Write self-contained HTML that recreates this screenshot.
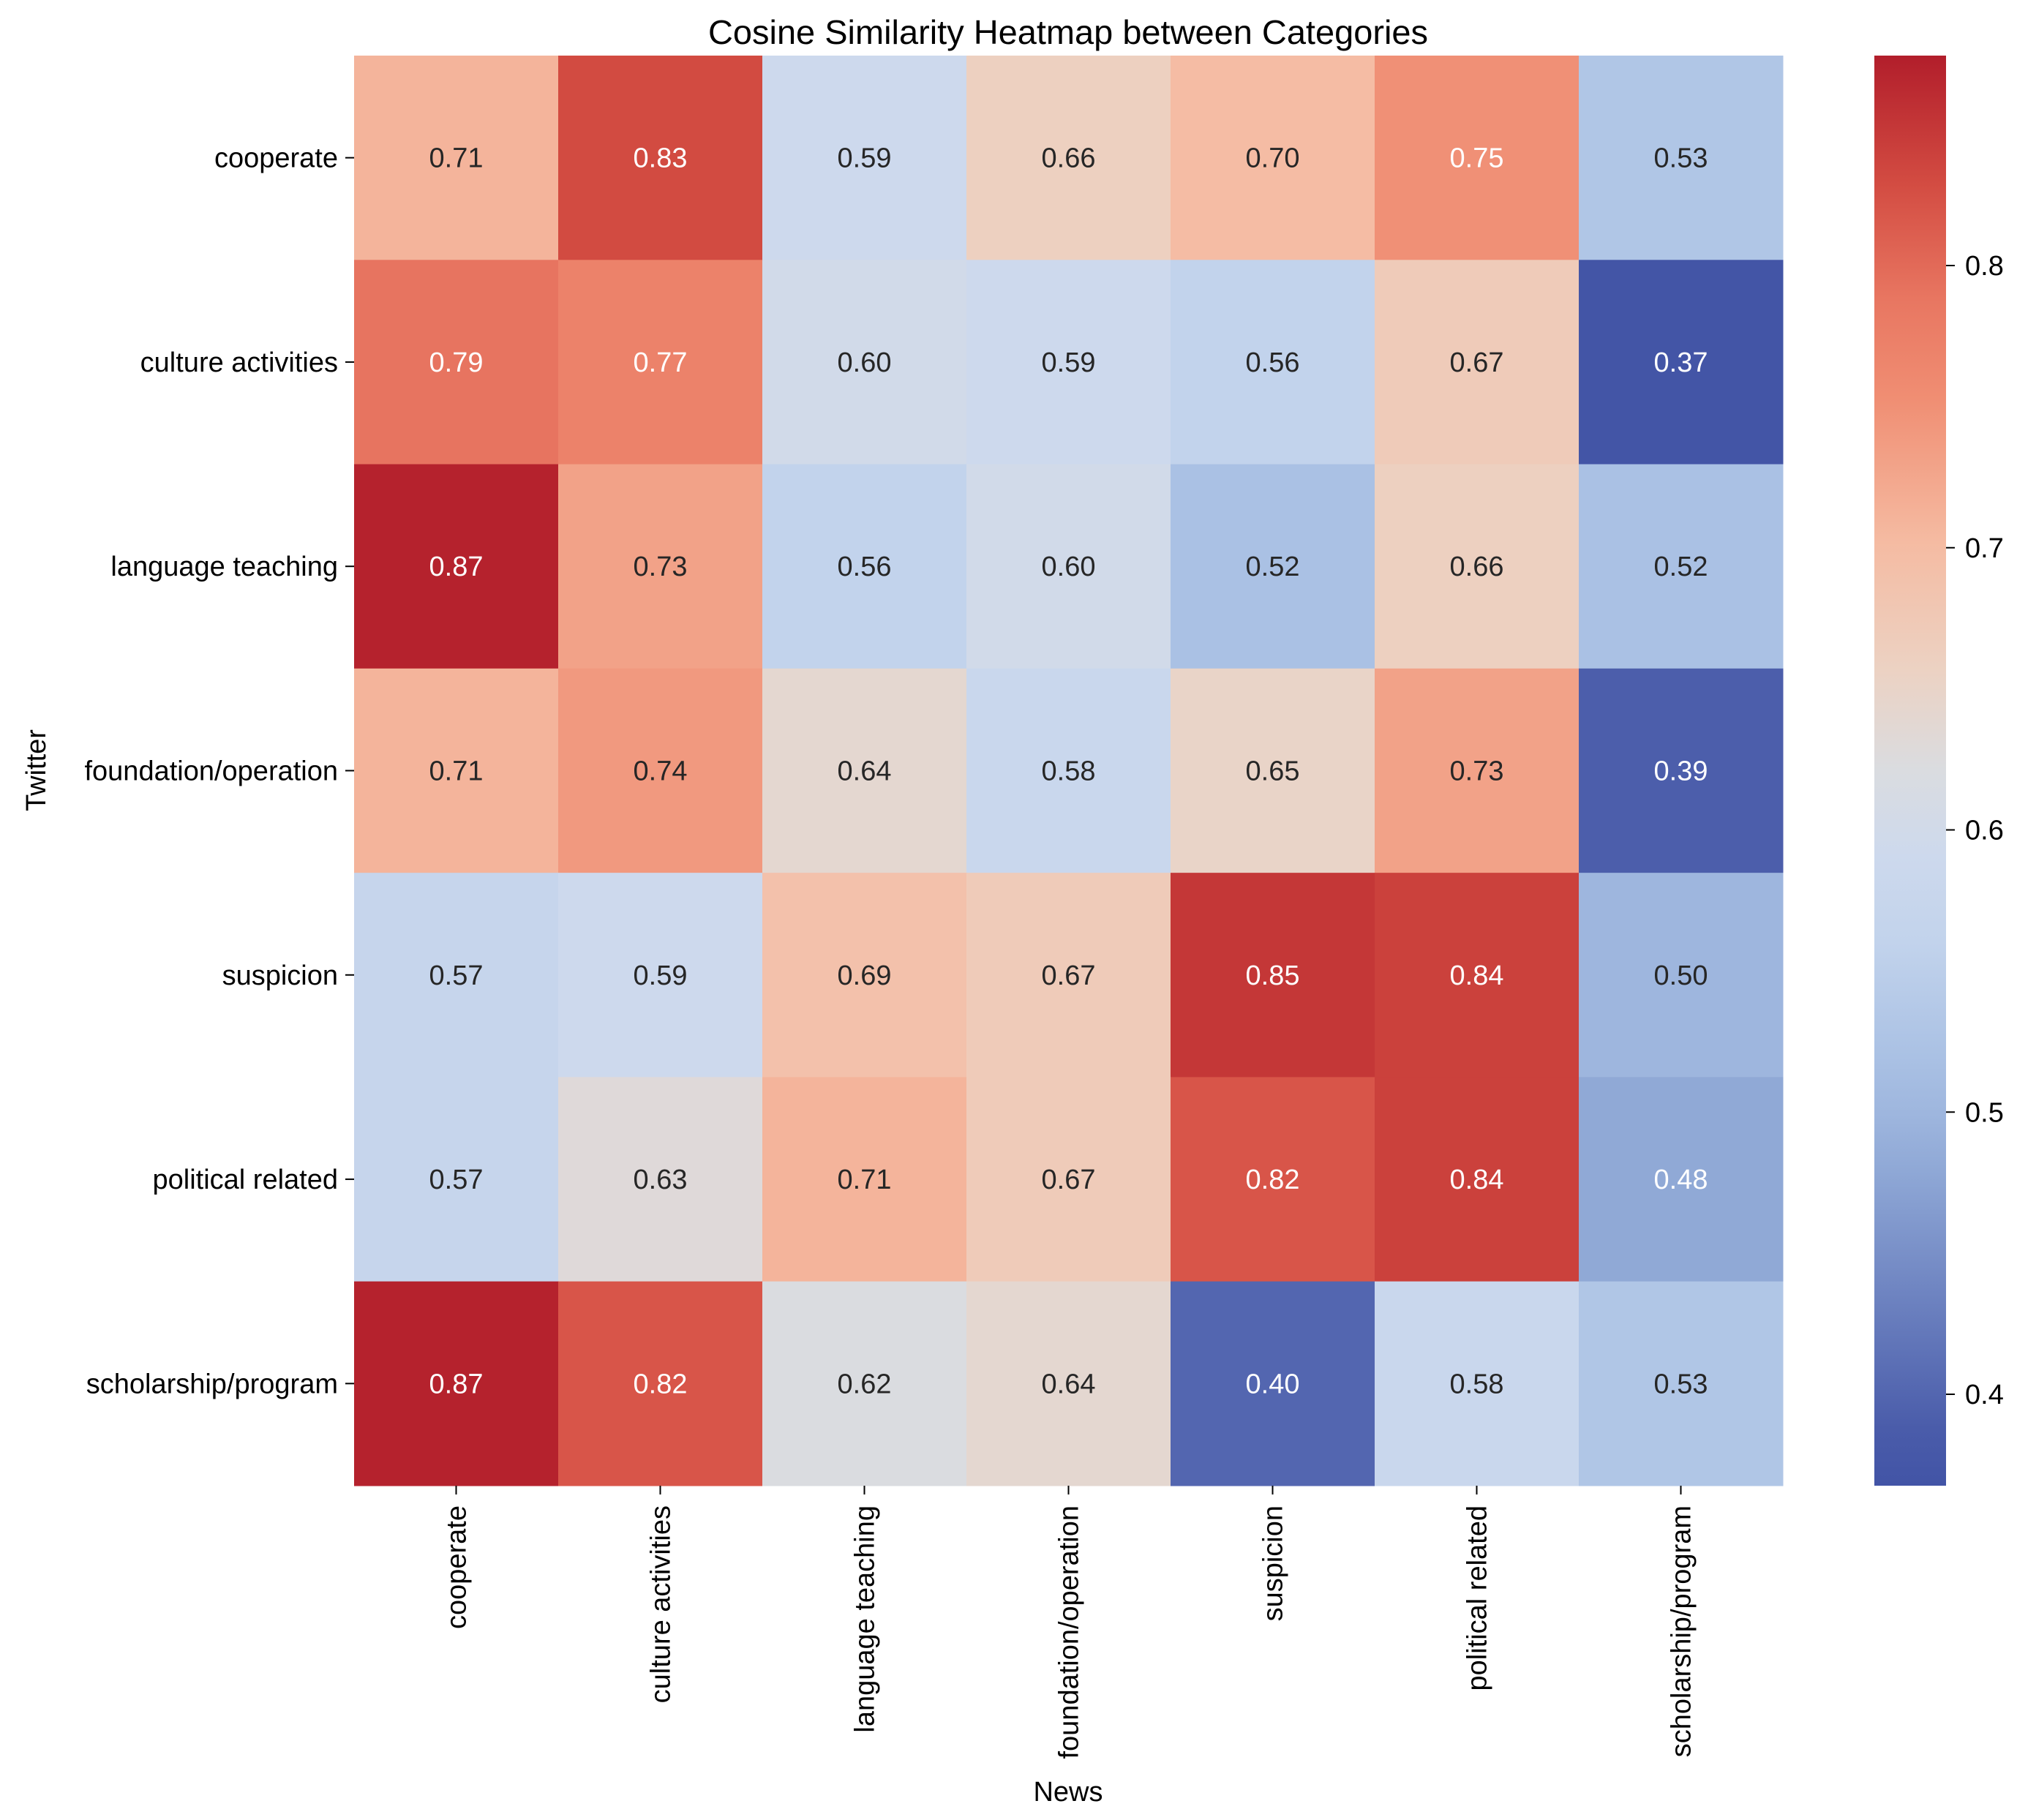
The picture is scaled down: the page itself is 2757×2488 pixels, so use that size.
<!DOCTYPE html>
<html><head><meta charset="utf-8"><style>
html,body{margin:0;padding:0;background:#fff;}
svg{display:block;font-family:"Liberation Sans",sans-serif;}
</style></head><body>
<svg id="chart" width="2757" height="2488" viewBox="0 0 2757 2488" xmlns="http://www.w3.org/2000/svg">
<defs><linearGradient id="cbgrad" x1="0" y1="1" x2="0" y2="0"></linearGradient></defs>
<text x="1460" y="60" font-size="46" text-anchor="middle" textLength="984" lengthAdjust="spacingAndGlyphs">Cosine Similarity Heatmap between Categories</text>
<g id="cells"></g><g id="xticks"></g><g id="yticks"></g><g id="cbar"></g>
<text x="1460" y="2462" font-size="38" text-anchor="middle">News</text>
<text transform="translate(62,1053) rotate(-90)" font-size="38" text-anchor="middle">Twitter</text>
</svg>
<script>
const newsCategories = ["cooperate","culture activities","language teaching","foundation/operation","suspicion","political related","scholarship/program"];
const twitterCategories = ["cooperate","culture activities","language teaching","foundation/operation","suspicion","political related","scholarship/program"];
const row0 = [0.71,0.83,0.59,0.66,0.70,0.75,0.53];
const row1 = [0.79,0.77,0.60,0.59,0.56,0.67,0.37];
const row2 = [0.87,0.73,0.56,0.60,0.52,0.66,0.52];
const row3 = [0.71,0.74,0.64,0.58,0.65,0.73,0.39];
const row4 = [0.57,0.59,0.69,0.67,0.85,0.84,0.50];
const row5 = [0.57,0.63,0.71,0.67,0.82,0.84,0.48];
const row6 = [0.87,0.82,0.62,0.64,0.40,0.58,0.53];
const colorbarTicks = [0.4,0.5,0.6,0.7,0.8];
const vmin = 0.3676, vmax = 0.8744;

const rows = [row0,row1,row2,row3,row4,row5,row6];
const NS = "http://www.w3.org/2000/svg";
const L = 484, T = 76, W = 1953, H = 1955;
const cw = W / newsCategories.length, ch = H / twitterCategories.length;
const xPos = i => L + i * cw;
const yPos = j => T + j * ch;
const cbX = 2562, cbW = 98, cbTop = 76, cbBot = 2031;
const cbY = v => cbBot - (v - vmin) / (vmax - vmin) * (cbBot - cbTop);
const stops = [
 [0.0,[66,84,166]],[0.04,[74,92,170]],[0.22,[143,168,214]],[0.26,[158,182,222]],
 [0.30,[170,193,228]],[0.38,[194,211,236]],[0.44,[205,217,237]],[0.50,[218,220,224]],
 [0.57,[236,210,195]],[0.66,[245,187,162]],[0.76,[240,142,115]],[0.83,[232,118,97]],
 [0.91,[211,76,66]],[1.0,[178,30,43]]];
function cmapT(t){
  t = Math.max(0, Math.min(1, t));
  for(let k=0;k<stops.length-1;k++){
    const a=stops[k], b=stops[k+1];
    if(t<=b[0]){ const f=(t-a[0])/(b[0]-a[0]); return a[1].map((c,m)=>Math.round(c+(b[1][m]-c)*f)); }
  }
  return stops[stops.length-1][1];
}
const cmap = v => cmapT((v - vmin) / (vmax - vmin));
function el(tag, attrs, parent){ const e=document.createElementNS(NS,tag); for(const k in attrs) e.setAttribute(k,attrs[k]); parent.appendChild(e); return e; }
const cells = document.getElementById('cells');
rows.forEach((row,j)=>{
  row.forEach((v,i)=>{
    const c = cmap(v);
    const r = el('rect',{x:xPos(i),y:yPos(j),width:cw+0.5,height:ch+0.5,fill:`rgb(${c[0]},${c[1]},${c[2]})`},cells);
    
    
    const lum = [c[0],c[1],c[2]].map(x=>{x/=255;return x<=0.03928?x/12.92:Math.pow((x+0.055)/1.055,2.4);});
    const Y = 0.2126*lum[0]+0.7152*lum[1]+0.0722*lum[2];
    const t = el('text',{x:xPos(i)+cw/2,y:yPos(j)+ch/2+13,'font-size':38,'text-anchor':'middle',fill:Y>0.408?'#262626':'#ffffff'},cells);
    
    
    t.textContent = v.toFixed(2);
  });
});
const xt = document.getElementById('xticks');
newsCategories.forEach((n,i)=>{
  const x = xPos(i)+cw/2;
  const tk = el('line',{x1:x,x2:x,y1:2031,y2:2043,stroke:'#000','stroke-width':2},xt);
  
  
  const t = el('text',{transform:`translate(${x+13},2058) rotate(-90)`,'font-size':38,'text-anchor':'end'},xt);
  
  
  t.textContent = n;
});
const yt = document.getElementById('yticks');
twitterCategories.forEach((n,j)=>{
  const y = yPos(j)+ch/2;
  const tk = el('line',{x1:472,x2:484,y1:y,y2:y,stroke:'#000','stroke-width':2},yt);
  
  
  const t = el('text',{x:462,y:y+13,'font-size':38,'text-anchor':'end'},yt);
  
  
  t.textContent = n;
});
const grad = document.getElementById('cbgrad');
stops.forEach(s=>{ const c=s[1]; el('stop',{offset:s[0],'stop-color':`rgb(${c[0]},${c[1]},${c[2]})`},grad); });
const cb = document.getElementById('cbar');
const cbr = el('rect',{x:cbX,y:cbTop,width:cbW,height:cbBot-cbTop,fill:'url(#cbgrad)'},cb);


colorbarTicks.forEach(v=>{
  const y = cbY(v);
  const tk = el('line',{x1:cbX+cbW,x2:cbX+cbW+12,y1:y,y2:y,stroke:'#000','stroke-width':2},cb);
  
  
  const t = el('text',{x:2686,y:y+13,'font-size':38},cb);
  
  
  t.textContent = v.toFixed(1);
});
</script>
</body></html>
